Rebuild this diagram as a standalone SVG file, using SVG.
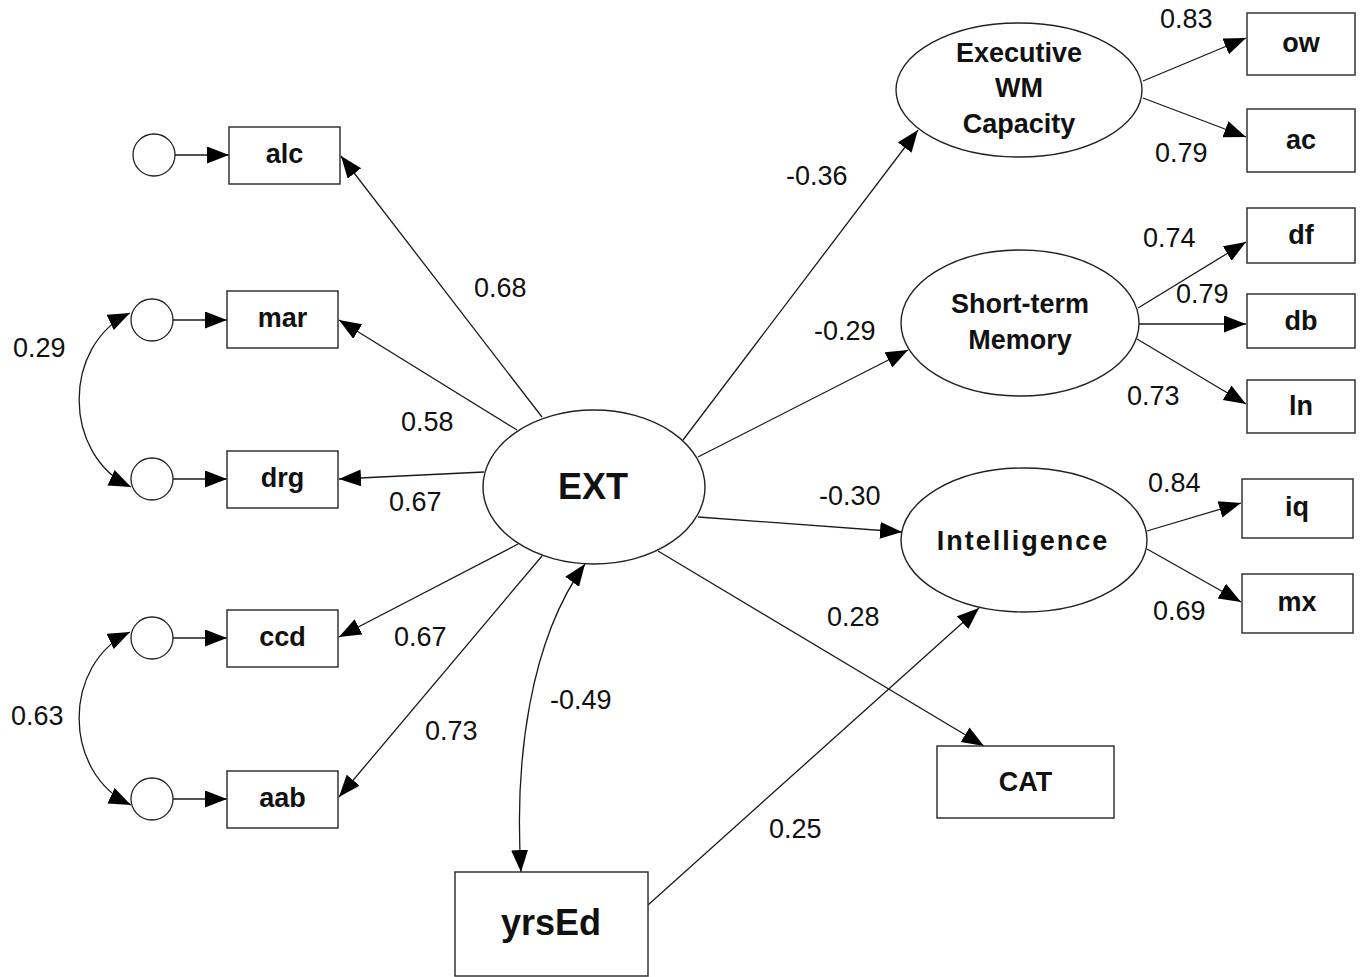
<svg xmlns="http://www.w3.org/2000/svg" width="1363" height="977" viewBox="0 0 1363 977">
<defs>
<marker id="ah" markerUnits="userSpaceOnUse" markerWidth="24" markerHeight="18" refX="22" refY="8.5" orient="auto-start-reverse">
<path d="M0,0 L22,8.5 L0,17 z" fill="#000"/>
</marker>
<style>
.box{fill:#fff;stroke:#333;stroke-width:1.5}
.ell{fill:#fff;stroke:#222;stroke-width:1.4}
.cir{fill:#fff;stroke:#222;stroke-width:1.3}
.a{fill:none;stroke:#1a1a1a;stroke-width:1.3;marker-end:url(#ah)}
.aa{fill:none;stroke:#1a1a1a;stroke-width:1.3;marker-start:url(#ah);marker-end:url(#ah)}
.t{font-family:"Liberation Sans",Arial,sans-serif;font-weight:bold;font-size:27px;text-anchor:middle;fill:#111}
.lb{font-family:"Liberation Sans",Arial,sans-serif;font-size:27px;fill:#111}
</style>
</defs>
<rect width="1363" height="977" fill="#fff"/>

<g id="connectors">
<line class="a" x1="175" y1="155" x2="229" y2="155"/>
<line class="a" x1="173" y1="320" x2="227" y2="320"/>
<line class="a" x1="173" y1="479" x2="227" y2="479"/>
<line class="a" x1="173" y1="638" x2="227" y2="638"/>
<line class="a" x1="173" y1="799" x2="227" y2="799"/>
<path class="aa" d="M130,313 C62,345 62,455 131,487"/>
<path class="aa" d="M130,632 C62,664 62,773 131,805"/>
<line class="a" x1="542" y1="417" x2="341" y2="156"/>
<line class="a" x1="517" y1="430" x2="339" y2="320"/>
<line class="a" x1="484" y1="472" x2="339" y2="479"/>
<line class="a" x1="518" y1="544" x2="339" y2="637"/>
<line class="a" x1="542" y1="556" x2="339" y2="797"/>
<line class="a" x1="683" y1="440" x2="918" y2="130"/>
<line class="a" x1="698" y1="457" x2="908" y2="350"/>
<line class="a" x1="698" y1="517" x2="902" y2="532"/>
<line class="a" x1="658" y1="551" x2="984" y2="746"/>
<path class="aa" d="M521,872 C514,760 530,640 585,564"/>
<line class="a" x1="648" y1="905" x2="979" y2="608"/>
<line class="a" x1="1143" y1="81" x2="1246" y2="38"/>
<line class="a" x1="1143" y1="98" x2="1246" y2="137"/>
<line class="a" x1="1138" y1="308" x2="1246" y2="242"/>
<line class="a" x1="1139" y1="324" x2="1246" y2="324"/>
<line class="a" x1="1137" y1="339" x2="1246" y2="404"/>
<line class="a" x1="1147" y1="531" x2="1241" y2="503"/>
<line class="a" x1="1147" y1="549" x2="1241" y2="602"/>
</g>

<g id="labels">
<text class="lb" x="474" y="297">0.68</text>
<text class="lb" x="401" y="431">0.58</text>
<text class="lb" x="389" y="511">0.67</text>
<text class="lb" x="394" y="646">0.67</text>
<text class="lb" x="425" y="740">0.73</text>
<text class="lb" x="550" y="709">-0.49</text>
<text class="lb" x="786" y="185">-0.36</text>
<text class="lb" x="814" y="340">-0.29</text>
<text class="lb" x="819" y="505">-0.30</text>
<text class="lb" x="827" y="626">0.28</text>
<text class="lb" x="769" y="838">0.25</text>
<text class="lb" x="13" y="357">0.29</text>
<text class="lb" x="11" y="725">0.63</text>
<text class="lb" x="1160" y="28">0.83</text>
<text class="lb" x="1155" y="162">0.79</text>
<text class="lb" x="1143" y="247">0.74</text>
<text class="lb" x="1176" y="303">0.79</text>
<text class="lb" x="1127" y="405">0.73</text>
<text class="lb" x="1148" y="492">0.84</text>
<text class="lb" x="1153" y="620">0.69</text>
</g>

<g id="e_alc"><circle class="cir" cx="154" cy="155" r="21"/></g>
<g id="e_mar"><circle class="cir" cx="152" cy="320" r="21"/></g>
<g id="e_drg"><circle class="cir" cx="152" cy="479" r="21"/></g>
<g id="e_ccd"><circle class="cir" cx="152" cy="638" r="21"/></g>
<g id="e_aab"><circle class="cir" cx="152" cy="799" r="21"/></g>

<g id="alc"><rect class="box" x="229" y="127" width="111" height="57"/><text class="t" x="284.5" y="163">alc</text></g>
<g id="mar"><rect class="box" x="227" y="291" width="111" height="57"/><text class="t" x="282.5" y="327">mar</text></g>
<g id="drg"><rect class="box" x="227" y="451" width="111" height="57"/><text class="t" x="282.5" y="487">drg</text></g>
<g id="ccd"><rect class="box" x="227" y="610" width="111" height="57"/><text class="t" x="282.5" y="646">ccd</text></g>
<g id="aab"><rect class="box" x="227" y="771" width="111" height="57"/><text class="t" x="282.5" y="807">aab</text></g>

<g id="EXT"><ellipse class="ell" cx="594" cy="487" rx="111" ry="77"/><text class="t" x="593" y="499" style="font-size:36px">EXT</text></g>

<g id="ExecWM"><ellipse class="ell" cx="1019" cy="90" rx="123" ry="67"/>
<text class="t" x="1019" y="62">Executive</text>
<text class="t" x="1019" y="97">WM</text>
<text class="t" x="1019" y="133">Capacity</text></g>

<g id="STM"><ellipse class="ell" cx="1020" cy="323" rx="119" ry="73"/>
<text class="t" x="1020" y="313">Short-term</text>
<text class="t" x="1020" y="349">Memory</text></g>

<g id="Intelligence"><ellipse class="ell" cx="1024" cy="540" rx="123" ry="72"/>
<text class="t" x="1023" y="550" style="letter-spacing:2px">Intelligence</text></g>

<g id="ow"><rect class="box" x="1247" y="13" width="108" height="62"/><text class="t" x="1301" y="52">ow</text></g>
<g id="ac"><rect class="box" x="1247" y="109" width="108" height="63"/><text class="t" x="1301" y="149">ac</text></g>
<g id="df"><rect class="box" x="1247" y="208" width="108" height="55"/><text class="t" x="1301" y="244">df</text></g>
<g id="db"><rect class="box" x="1247" y="294" width="108" height="54"/><text class="t" x="1301" y="330">db</text></g>
<g id="ln"><rect class="box" x="1247" y="380" width="108" height="53"/><text class="t" x="1301" y="415">ln</text></g>
<g id="iq"><rect class="box" x="1242" y="479" width="111" height="59"/><text class="t" x="1297" y="516">iq</text></g>
<g id="mx"><rect class="box" x="1242" y="574" width="111" height="59"/><text class="t" x="1297" y="611">mx</text></g>

<g id="CAT"><rect class="box" x="937" y="746" width="177" height="72"/><text class="t" x="1025.5" y="791">CAT</text></g>
<g id="yrsEd"><rect class="box" x="455" y="872" width="193" height="104"/><text class="t" x="551" y="935" style="font-size:36px">yrsEd</text></g>
</svg>
